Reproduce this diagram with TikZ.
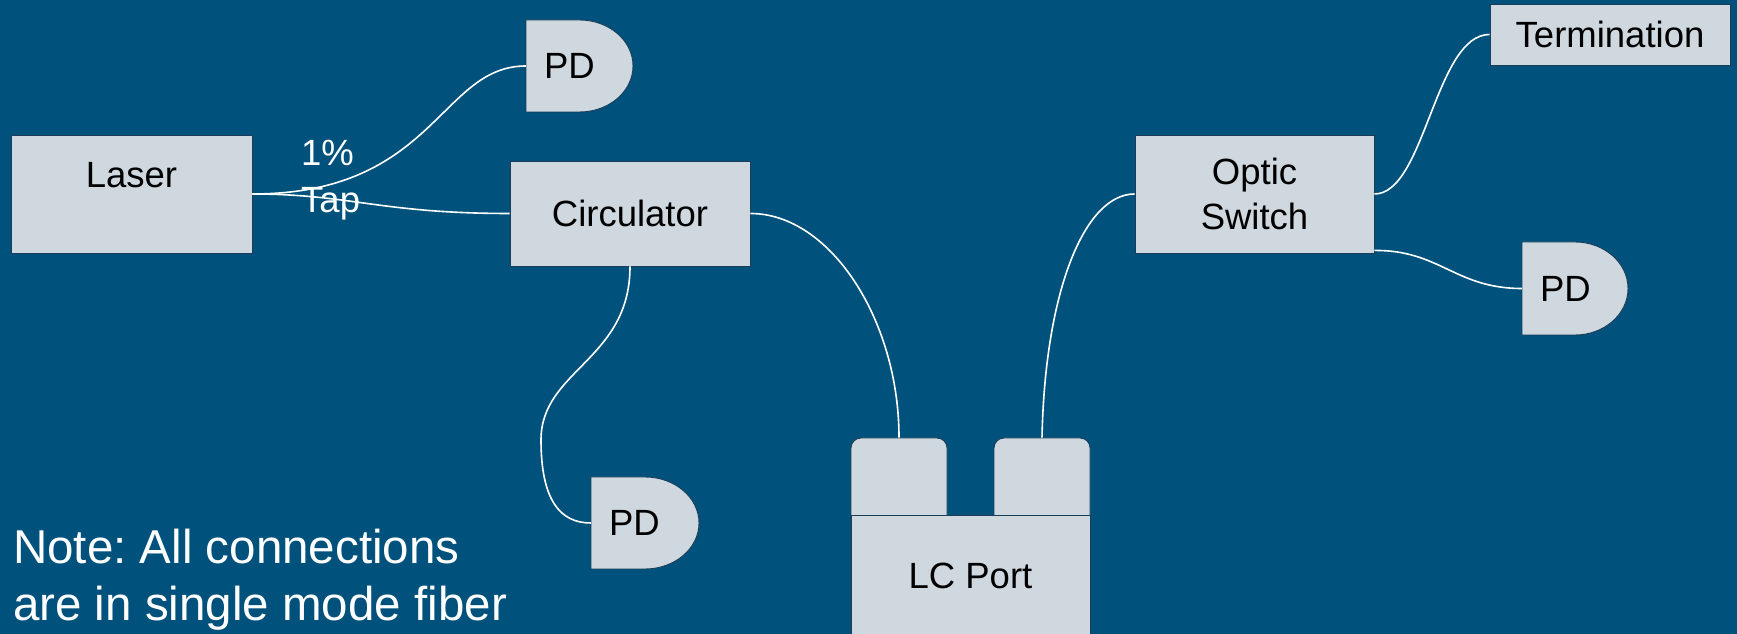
\documentclass[tikz,border=0pt]{standalone}
\usepackage{fontspec}
\setmainfont{Liberation Sans}
\frenchspacing
\definecolor{bg}{RGB}{0,82,124}
\definecolor{boxfill}{RGB}{207,216,222}
\definecolor{edge}{RGB}{28,60,88}
\newcommand\labelfont{\fontsize{36.5}{45}\selectfont}
\newcommand\notefont{\fontsize{47.5}{57}\selectfont}
\tikzset{
  block/.style={rectangle,draw=edge,line width=0.9pt,fill=boxfill,inner sep=0pt,
    align=center,text=black,font=\labelfont},
  dshape/.style={draw=edge,line width=0.9pt,fill=boxfill},
  pdlabel/.style={rectangle,inner sep=0pt,align=left,text=black,font=\labelfont},
  whitetext/.style={inner sep=0pt,align=left,text=white,anchor=north west},
  fiber/.style={draw=white,line width=1.6pt},
}
% photodiode: flat left side, half-ellipse on the right
\newcommand\pdunit[5]{%
  \draw[dshape] (#2-#4/2,#3-#5/2) -- (#2-#4/2,#3+#5/2) -- (#2,#3+#5/2)
    arc[start angle=90,end angle=-90,x radius=#4/2,y radius=#5/2] -- cycle;
  \node[pdlabel,text width=#4pt,minimum height=#5pt] (#1) at (#2,#3) {\hspace*{18pt}PD};}
\begin{document}
\begin{tikzpicture}[x=1pt,y=1pt]
  \useasboundingbox (0,0) rectangle (1737,634);
  \clip (0,0) rectangle (1737,634);
  \fill[bg] (0,0) rectangle (1737,634);

  % blocks
  \node[block,minimum width=241pt,minimum height=118pt,font=\fontsize{36.5}{38}\selectfont] (laser) at (131.5,440) {Laser\\\mbox{}};
  \node[block,minimum width=240pt,minimum height=105pt] (circ) at (630,420.5) {Circulator};
  \node[block,minimum width=239pt,minimum height=118pt] (switch) at (1254.5,440) {\raisebox{0pt}[26pt][0pt]{Optic}\\Switch};
  \node[block,minimum width=240pt,minimum height=61pt] (term) at (1610,599.5) {Termination};

  % photodiodes
  \pdunit{pdtap}{579.5}{568}{107}{92}
  \pdunit{pdret}{645}{111}{108}{92}
  \pdunit{pdsw}{1575}{345.5}{106}{93}

  % LC duplex port: two rounded tabs on a base block
  \node[block,rounded corners=10pt,minimum width=96pt,minimum height=92pt] (tabA) at (899,150) {};
  \node[block,rounded corners=10pt,minimum width=96pt,minimum height=92pt] (tabB) at (1042,150) {};
  \node[block,minimum width=239pt,minimum height=122pt] (lc) at (970.5,58) {LC Port};

  % labels
  \node[whitetext,font=\fontsize{36.5}{47}\selectfont] (tap) at (301,494) {1\%\\Tap};
  \node[whitetext,font=\notefont] (note) at (13,105) {Note: All connections\\are in single mode fiber};

  % fibers
  \draw[fiber] (laser.east) .. controls (350,440) and (380,420.5) .. (circ.west);
  \draw[fiber] (laser.east) .. controls (435,440) and (440,568) .. (pdtap.west);
  \draw[fiber] (circ.south) .. controls (630,274) and (541,264) .. (541,194)
                .. controls (541,134) and (560,111) .. (pdret.west);
  \draw[fiber] (circ.east) .. controls (830,420.5) and (899,314) .. (tabA.north);
  \draw[fiber] (tabB.north) .. controls (1045,344) and (1085,440) .. (switch.west);
  \draw[fiber] (switch.east) .. controls (1425,440) and (1435,599.5) .. (term.west);
  \draw[fiber] ([yshift=3pt]switch.south east) .. controls (1440,384) and (1455,345.5) .. (pdsw.west);
\end{tikzpicture}
\end{document}
